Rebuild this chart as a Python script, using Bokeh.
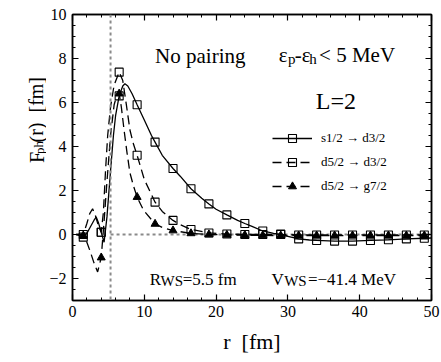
from bokeh.plotting import figure
from bokeh.layouts import row
from bokeh.models import (Range1d, LinearAxis, Label, Legend, LegendItem,
                          SingleIntervalTicker, Span)
from bokeh.embed import file_html
from bokeh.resources import INLINE

FONT = "Liberation Serif"

# ---------------- data ----------------
r_marks = [1.5, 4.0, 6.5, 9.0, 11.5, 14.0, 16.5, 19.0, 21.5, 24.0,
           26.5, 29.0, 31.5, 34.0, 36.5, 39.0, 41.5, 44.0, 46.5, 49.0]
s12_d32_marks = [-0.12, 0.10, 6.30, 5.90, 4.20, 3.00, 2.08, 1.39, 0.89, 0.50,
                 0.16, 0.02, -0.20, -0.27, -0.30, -0.30, -0.27, -0.24, -0.20, -0.17]
d52_d32_marks = [0.00, 0.10, 7.38, 3.60, 1.47, 0.64, 0.23, 0.07, 0.02, 0.00,
                 0.00, 0.00, -0.02, -0.02, -0.02, -0.02, -0.02, -0.02, -0.02, -0.02]
d52_g72_marks = [-0.05, -1.05, 6.40, 1.70, 0.48, 0.18, 0.05, 0.00, -0.02, -0.03,
                 -0.04, -0.05, -0.05, -0.05, -0.05, -0.05, -0.05, -0.05, -0.05, -0.05]

r_s12_d32 = [0.5, 1.0, 1.5, 2.0, 2.5, 3.0, 3.3, 3.6, 4.0, 4.4, 4.8, 5.3, 5.7, 6.0,
             6.5, 7.0, 7.3, 7.7, 8.3, 9.0, 10.0, 11.0, 11.5, 12.5, 14.0, 15.0, 16.5,
             18.0, 19.0, 20.0, 21.5, 23.0, 24.0, 25.0, 26.5, 28.0, 29.0, 30.0, 31.5,
             33.0, 34.0, 36.5, 39.0, 41.5, 44.0, 46.5, 49.0, 50.0]
s12_d32 = [0.0, -0.05, -0.12, 0.05, 0.35, 0.65, 0.79, 0.55, 0.10, -0.35, 0.8, 2.9, 4.5, 5.4,
           6.3, 6.75, 6.85, 6.75, 6.4, 5.9, 5.2, 4.5, 4.2, 3.6, 3.0, 2.65, 2.08,
           1.65, 1.39, 1.15, 0.89, 0.64, 0.50, 0.37, 0.16, 0.05, 0.0, -0.08, -0.20,
           -0.25, -0.27, -0.30, -0.30, -0.27, -0.24, -0.20, -0.17, -0.16]

r_d52_d32 = [0.5, 1.0, 1.5, 2.0, 2.4, 2.8, 3.2, 3.6, 4.0, 4.3, 4.6, 4.9, 5.3, 5.8,
             6.5, 7.0, 7.5, 8.0, 8.5, 9.0, 10.0, 11.5, 12.5, 14.0, 15.0, 16.5,
             19.0, 21.5, 24.0, 26.5, 29.0, 31.5, 50.0]
d52_d32 = [0.0, 0.0, 0.0, 0.5, 0.95, 1.17, 0.85, 0.4, 0.10, 1.0, 2.9, 4.5, 5.8, 6.8,
           7.38, 7.0, 5.9, 4.75, 4.1, 3.6, 2.5, 1.47, 1.05, 0.64, 0.45, 0.23,
           0.07, 0.02, 0.0, 0.0, 0.0, -0.02, -0.02]

r_d52_g72 = [0.5, 1.0, 1.5, 2.0, 2.5, 3.0, 3.5, 4.0, 4.4, 4.8, 5.3, 5.8, 6.2, 6.5,
             6.8, 7.2, 7.6, 8.0, 8.5, 9.0, 9.9, 11.5, 12.5, 14.0, 16.5, 19.0,
             21.5, 24.0, 29.0, 50.0]
d52_g72 = [0.0, 0.0, -0.05, -0.35, -0.8, -1.3, -1.7, -1.05, 0.6, 2.4, 4.5, 5.9, 6.35, 6.4,
           5.8, 4.7, 3.7, 2.8, 2.2, 1.7, 1.1, 0.48, 0.32, 0.18, 0.05, 0.0,
           -0.02, -0.03, -0.05, -0.05]

series_labels = ["s1/2 \u2192 d3/2", "d5/2 \u2192 d3/2", "d5/2 \u2192 g7/2"]

R_WS = 5.3
X_MIN, X_MAX = 0, 50
Y_MIN, Y_MAX = -3, 10

# ---------------- y-axis title panel ----------------
LW, H = 46, 362
lab = figure(width=LW, height=H, output_backend="svg", toolbar_location=None,
             x_range=Range1d(0, LW), y_range=Range1d(0, H),
             x_axis_type=None, y_axis_type=None,
             min_border_left=0, min_border_right=0, min_border_top=0,
             min_border_bottom=0)
lab.grid.visible = False
lab.outline_line_color = None
lab.background_fill_color = "white"
lab.border_fill_color = "white"


def ytxt(x, y, s, size):
    lab.add_layout(Label(x=x, y=H - y, text=s, text_font=FONT, text_font_size=size,
                         text_baseline="alphabetic", text_align="left",
                         angle=1.5708, text_color="black"))


ytxt(36, 188, "F", "20px")
ytxt(38.5, 176.5, "ph", "13px")
ytxt(36, 162, "(r) \u00a0[fm]", "20px")

# ---------------- main figure ----------------
p = figure(width=441 - LW, height=H, output_backend="svg", toolbar_location=None,
           x_range=Range1d(X_MIN, X_MAX), y_range=Range1d(Y_MIN, Y_MAX),
           min_border_left=22, min_border_right=10, min_border_top=14,
           min_border_bottom=62)
p.grid.visible = False
p.background_fill_color = "white"
p.border_fill_color = "white"
p.outline_line_color = "black"
p.outline_line_width = 1.5

p.xaxis.ticker = SingleIntervalTicker(interval=10, num_minor_ticks=5)
p.yaxis.ticker = SingleIntervalTicker(interval=2, num_minor_ticks=4)


def style_axis(ax):
    ax.axis_line_width = 1.5
    ax.major_tick_in = 6
    ax.major_tick_out = 0
    ax.minor_tick_in = 3
    ax.minor_tick_out = 0
    ax.major_tick_line_width = 1.2
    ax.minor_tick_line_width = 1.0
    ax.major_label_text_font = FONT
    ax.major_label_text_font_size = "16px"
    ax.major_label_text_color = "black"


for ax in (p.xaxis[0], p.yaxis[0]):
    style_axis(ax)
p.xaxis.major_label_standoff = 5
p.yaxis.major_label_standoff = 6
p.xaxis.axis_label = "r \u00a0[fm]"
p.xaxis.axis_label_text_font = FONT
p.xaxis.axis_label_text_font_size = "22px"
p.xaxis.axis_label_text_font_style = "normal"
p.xaxis.axis_label_text_color = "black"
p.xaxis.axis_label_standoff = 9

top = LinearAxis(ticker=SingleIntervalTicker(interval=10, num_minor_ticks=5))
right = LinearAxis(ticker=SingleIntervalTicker(interval=2, num_minor_ticks=4))
for ax in (top, right):
    style_axis(ax)
    ax.major_label_text_color = None
    ax.major_label_standoff = 0
p.add_layout(top, "above")
p.add_layout(right, "right")

# reference lines
p.add_layout(Span(location=R_WS, dimension="height", line_color="#8a8a8a",
                  line_width=2, line_dash="3 3"))
p.segment(x0=[R_WS], y0=[0], x1=[X_MAX], y1=[0], line_color="#8a8a8a",
          line_width=2, line_dash="3 3")

# curves
l1 = p.line(r_s12_d32, s12_d32, line_color="black", line_width=1.3)
l2 = p.line(r_d52_d32, d52_d32, line_color="black", line_width=1.3, line_dash="9 5")
l3 = p.line(r_d52_g72, d52_g72, line_color="black", line_width=1.3, line_dash="9 5")
m3 = p.scatter(r_marks, d52_g72_marks, marker="triangle", size=8,
               fill_color="black", line_color="black")
m1 = p.scatter(r_marks, s12_d32_marks, marker="square", size=8,
               fill_color=None, line_color="black", line_width=1.1)
m2 = p.scatter(r_marks, d52_d32_marks, marker="square", size=8,
               fill_color=None, line_color="black", line_width=1.1)

legend = Legend(items=[LegendItem(label=series_labels[0], renderers=[l1, m1]),
                       LegendItem(label=series_labels[1], renderers=[l2, m2]),
                       LegendItem(label=series_labels[2], renderers=[l3, m3])],
                location=(200, 104), border_line_color=None,
                background_fill_alpha=0, padding=0, margin=0, spacing=4,
                glyph_width=40, glyph_height=20, label_height=20,
                label_standoff=9, label_text_font=FONT,
                label_text_font_size="13px", label_text_color="black")
p.add_layout(legend)


def px2x(px):
    return (px - 68) / 7.26


def py2y(py):
    return (234 - py) / 22.0


def txt(px, py, s, size):
    p.add_layout(Label(x=px2x(px), y=py2y(py), text=s, text_font=FONT,
                       text_font_size=size, text_baseline="alphabetic",
                       text_align="left", text_color="black"))


txt(151.5, 55, "No pairing", "21px")
txt(276.5, 54, "\u03b5", "21px")
txt(286.0, 58, "p", "15px")
txt(292.8, 54, "-\u03b5", "21px")
txt(307.5, 58, "h", "15px")
txt(317.3, 54, "< 5 MeV", "21px")
txt(314.0, 100, "L=2", "24px")
txt(146.0, 278.5, "R", "17px")
txt(157.0, 280.5, "WS", "15px")
txt(179.5, 278.5, "=5.5 fm", "17px")
txt(269.3, 278.5, "V", "17px")
txt(282.0, 280.5, "WS", "15px")
txt(306.0, 278.5, "=\u221241.4 MeV", "17px")

open("out.html", "w").write(file_html(row(lab, p), INLINE))
